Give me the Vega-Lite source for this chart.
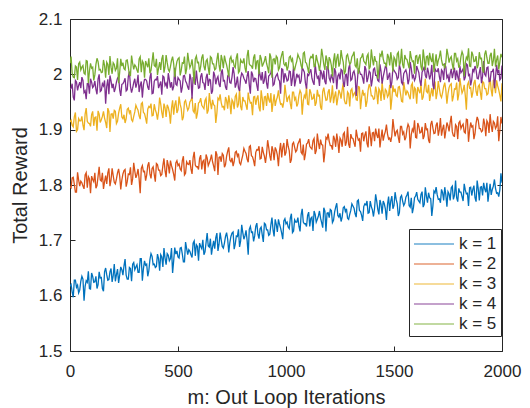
{
"$schema":"https://vega.github.io/schema/vega-lite/v6.json",
"width":432,"height":332,
"autosize":{"type":"none"},
"padding":{"left":70,"top":19,"right":28,"bottom":57},
"background":"#ffffff",
"config":{"font":"Liberation Sans","view":{"stroke":"#262626","strokeWidth":1},
 "axis":{"grid":false,"domain":false,"tickColor":"#262626","tickSize":-5,"labelColor":"#262626","labelFontSize":17,"titleColor":"#262626","titleFontSize":20,"titleFontWeight":"normal","labelFont":"Liberation Sans","titleFont":"Liberation Sans"}},
"data":{"values":[
{"m":0,"a":1.617,"b":1.797,"c":1.914,"d":1.973,"e":2.020},
{"m":10,"a":1.607,"b":1.813,"c":1.908,"d":1.983,"e":2.002},
{"m":20,"a":1.628,"b":1.801,"c":1.923,"d":1.953,"e":1.994},
{"m":30,"a":1.615,"b":1.787,"c":1.897,"d":1.986,"e":2.013},
{"m":40,"a":1.605,"b":1.809,"c":1.920,"d":1.980,"e":2.019},
{"m":50,"a":1.626,"b":1.807,"c":1.916,"d":1.975,"e":2.008},
{"m":60,"a":1.630,"b":1.798,"c":1.908,"d":1.989,"e":2.016},
{"m":70,"a":1.617,"b":1.818,"c":1.928,"d":1.970,"e":2.000},
{"m":80,"a":1.624,"b":1.795,"c":1.915,"d":1.983,"e":2.024},
{"m":90,"a":1.613,"b":1.811,"c":1.911,"d":1.965,"e":2.006},
{"m":100,"a":1.641,"b":1.816,"c":1.927,"d":1.986,"e":2.011},
{"m":110,"a":1.624,"b":1.806,"c":1.907,"d":1.979,"e":1.989},
{"m":120,"a":1.635,"b":1.794,"c":1.923,"d":1.973,"e":2.018},
{"m":130,"a":1.620,"b":1.816,"c":1.934,"d":1.992,"e":2.023},
{"m":140,"a":1.632,"b":1.809,"c":1.913,"d":1.969,"e":2.009},
{"m":150,"a":1.613,"b":1.822,"c":1.924,"d":1.983,"e":2.004},
{"m":160,"a":1.643,"b":1.806,"c":1.921,"d":1.989,"e":2.016},
{"m":170,"a":1.638,"b":1.802,"c":1.903,"d":1.978,"e":2.022},
{"m":180,"a":1.629,"b":1.830,"c":1.933,"d":1.964,"e":1.999},
{"m":190,"a":1.649,"b":1.809,"c":1.928,"d":1.988,"e":2.013},
{"m":200,"a":1.636,"b":1.817,"c":1.920,"d":1.983,"e":2.021},
{"m":210,"a":1.626,"b":1.802,"c":1.933,"d":1.975,"e":2.007},
{"m":220,"a":1.648,"b":1.822,"c":1.915,"d":1.993,"e":2.029},
{"m":230,"a":1.637,"b":1.816,"c":1.939,"d":1.972,"e":2.004},
{"m":240,"a":1.647,"b":1.809,"c":1.923,"d":1.982,"e":2.015},
{"m":250,"a":1.654,"b":1.826,"c":1.927,"d":1.987,"e":2.010},
{"m":260,"a":1.637,"b":1.797,"c":1.920,"d":1.970,"e":2.025},
{"m":270,"a":1.630,"b":1.820,"c":1.939,"d":1.996,"e":2.013},
{"m":280,"a":1.649,"b":1.832,"c":1.935,"d":1.978,"e":1.998},
{"m":290,"a":1.657,"b":1.811,"c":1.915,"d":1.975,"e":2.020},
{"m":300,"a":1.647,"b":1.825,"c":1.932,"d":1.992,"e":2.017},
{"m":310,"a":1.656,"b":1.819,"c":1.939,"d":1.984,"e":2.008},
{"m":320,"a":1.642,"b":1.811,"c":1.925,"d":1.968,"e":2.028},
{"m":330,"a":1.667,"b":1.830,"c":1.947,"d":1.987,"e":2.004},
{"m":340,"a":1.649,"b":1.824,"c":1.931,"d":1.981,"e":2.020},
{"m":350,"a":1.655,"b":1.808,"c":1.921,"d":1.991,"e":2.024},
{"m":360,"a":1.635,"b":1.835,"c":1.937,"d":1.977,"e":2.013},
{"m":370,"a":1.665,"b":1.820,"c":1.940,"d":1.994,"e":2.002},
{"m":380,"a":1.671,"b":1.830,"c":1.925,"d":1.965,"e":2.023},
{"m":390,"a":1.657,"b":1.819,"c":1.946,"d":1.987,"e":2.016},
{"m":400,"a":1.653,"b":1.839,"c":1.930,"d":1.990,"e":2.028},
{"m":410,"a":1.667,"b":1.827,"c":1.933,"d":1.975,"e":2.011},
{"m":420,"a":1.674,"b":1.817,"c":1.946,"d":1.987,"e":2.008},
{"m":430,"a":1.652,"b":1.835,"c":1.921,"d":1.997,"e":2.035},
{"m":440,"a":1.668,"b":1.826,"c":1.940,"d":1.980,"e":2.014},
{"m":450,"a":1.676,"b":1.845,"c":1.945,"d":1.974,"e":2.021},
{"m":460,"a":1.663,"b":1.821,"c":1.931,"d":1.990,"e":2.005},
{"m":470,"a":1.686,"b":1.835,"c":1.939,"d":1.986,"e":2.025},
{"m":480,"a":1.663,"b":1.819,"c":1.927,"d":1.978,"e":2.019},
{"m":490,"a":1.675,"b":1.840,"c":1.953,"d":1.982,"e":2.012},
{"m":500,"a":1.670,"b":1.835,"c":1.936,"d":1.994,"e":2.028},
{"m":510,"a":1.686,"b":1.829,"c":1.946,"d":1.988,"e":1.998},
{"m":520,"a":1.675,"b":1.844,"c":1.917,"d":1.977,"e":2.021},
{"m":530,"a":1.661,"b":1.818,"c":1.950,"d":1.998,"e":2.032},
{"m":540,"a":1.685,"b":1.842,"c":1.943,"d":1.984,"e":2.010},
{"m":550,"a":1.683,"b":1.837,"c":1.939,"d":1.972,"e":2.024},
{"m":560,"a":1.674,"b":1.829,"c":1.953,"d":1.992,"e":2.017},
{"m":570,"a":1.695,"b":1.849,"c":1.934,"d":1.995,"e":2.009},
{"m":580,"a":1.672,"b":1.836,"c":1.948,"d":1.981,"e":2.028},
{"m":590,"a":1.689,"b":1.833,"c":1.930,"d":1.988,"e":2.021},
{"m":600,"a":1.695,"b":1.848,"c":1.950,"d":1.976,"e":2.004},
{"m":610,"a":1.685,"b":1.828,"c":1.944,"d":2.002,"e":2.030},
{"m":620,"a":1.674,"b":1.845,"c":1.938,"d":1.984,"e":2.015},
{"m":630,"a":1.696,"b":1.855,"c":1.957,"d":1.994,"e":2.024},
{"m":640,"a":1.690,"b":1.835,"c":1.935,"d":1.979,"e":2.012},
{"m":650,"a":1.703,"b":1.846,"c":1.949,"d":1.990,"e":2.032},
{"m":660,"a":1.688,"b":1.842,"c":1.954,"d":1.970,"e":2.019},
{"m":670,"a":1.685,"b":1.825,"c":1.943,"d":1.998,"e":2.008},
{"m":680,"a":1.713,"b":1.855,"c":1.930,"d":1.992,"e":2.026},
{"m":690,"a":1.693,"b":1.850,"c":1.954,"d":1.982,"e":2.017},
{"m":700,"a":1.701,"b":1.842,"c":1.949,"d":2.002,"e":2.035},
{"m":710,"a":1.686,"b":1.854,"c":1.942,"d":1.988,"e":2.011},
{"m":720,"a":1.707,"b":1.837,"c":1.959,"d":1.977,"e":2.024},
{"m":730,"a":1.702,"b":1.861,"c":1.938,"d":1.997,"e":2.007},
{"m":740,"a":1.696,"b":1.845,"c":1.949,"d":1.985,"e":2.028},
{"m":750,"a":1.713,"b":1.849,"c":1.954,"d":1.995,"e":2.022},
{"m":760,"a":1.684,"b":1.842,"c":1.937,"d":2.001,"e":2.015},
{"m":770,"a":1.708,"b":1.861,"c":1.964,"d":1.983,"e":2.030},
{"m":780,"a":1.720,"b":1.857,"c":1.946,"d":1.975,"e":2.003},
{"m":790,"a":1.699,"b":1.837,"c":1.942,"d":1.993,"e":2.026},
{"m":800,"a":1.714,"b":1.854,"c":1.959,"d":1.999,"e":2.021},
{"m":810,"a":1.708,"b":1.861,"c":1.952,"d":1.989,"e":2.012},
{"m":820,"a":1.700,"b":1.847,"c":1.936,"d":1.997,"e":2.033},
{"m":830,"a":1.720,"b":1.869,"c":1.955,"d":1.981,"e":2.019},
{"m":840,"a":1.714,"b":1.853,"c":1.949,"d":2.005,"e":2.015},
{"m":850,"a":1.698,"b":1.844,"c":1.959,"d":1.986,"e":2.030},
{"m":860,"a":1.725,"b":1.859,"c":1.945,"d":1.992,"e":2.009},
{"m":870,"a":1.711,"b":1.863,"c":1.962,"d":1.970,"e":2.025},
{"m":880,"a":1.721,"b":1.847,"c":1.933,"d":1.999,"e":2.035},
{"m":890,"a":1.710,"b":1.869,"c":1.956,"d":2.004,"e":2.014},
{"m":900,"a":1.731,"b":1.852,"c":1.959,"d":1.989,"e":2.024},
{"m":910,"a":1.719,"b":1.856,"c":1.943,"d":1.984,"e":2.020},
{"m":920,"a":1.709,"b":1.868,"c":1.955,"d":1.997,"e":2.002},
{"m":930,"a":1.728,"b":1.844,"c":1.966,"d":2.003,"e":2.031},
{"m":940,"a":1.719,"b":1.862,"c":1.949,"d":1.980,"e":2.027},
{"m":950,"a":1.738,"b":1.868,"c":1.943,"d":1.994,"e":2.018},
{"m":960,"a":1.715,"b":1.854,"c":1.959,"d":2.001,"e":2.030},
{"m":970,"a":1.729,"b":1.862,"c":1.955,"d":1.988,"e":2.012},
{"m":980,"a":1.713,"b":1.850,"c":1.947,"d":2.010,"e":2.035},
{"m":990,"a":1.735,"b":1.876,"c":1.951,"d":1.985,"e":2.019},
{"m":1000,"a":1.730,"b":1.859,"c":1.964,"d":1.996,"e":2.022},
{"m":1010,"a":1.724,"b":1.870,"c":1.958,"d":1.990,"e":2.014},
{"m":1020,"a":1.740,"b":1.840,"c":1.947,"d":2.005,"e":2.033},
{"m":1030,"a":1.714,"b":1.874,"c":1.968,"d":1.993,"e":2.028},
{"m":1040,"a":1.737,"b":1.868,"c":1.954,"d":1.978,"e":2.008},
{"m":1050,"a":1.733,"b":1.863,"c":1.942,"d":2.001,"e":2.024},
{"m":1060,"a":1.725,"b":1.878,"c":1.962,"d":1.998,"e":2.031},
{"m":1070,"a":1.746,"b":1.859,"c":1.966,"d":1.988,"e":2.016},
{"m":1080,"a":1.733,"b":1.873,"c":1.952,"d":2.008,"e":2.038},
{"m":1090,"a":1.730,"b":1.856,"c":1.958,"d":1.984,"e":2.022},
{"m":1100,"a":1.745,"b":1.876,"c":1.946,"d":2.000,"e":2.012},
{"m":1110,"a":1.725,"b":1.870,"c":1.973,"d":2.004,"e":2.027},
{"m":1120,"a":1.742,"b":1.865,"c":1.955,"d":1.993,"e":2.030},
{"m":1130,"a":1.753,"b":1.884,"c":1.965,"d":1.981,"e":2.014},
{"m":1140,"a":1.733,"b":1.862,"c":1.949,"d":2.002,"e":2.035},
{"m":1150,"a":1.744,"b":1.877,"c":1.961,"d":1.996,"e":2.018},
{"m":1160,"a":1.740,"b":1.882,"c":1.941,"d":2.008,"e":2.021},
{"m":1170,"a":1.723,"b":1.872,"c":1.969,"d":1.991,"e":2.033},
{"m":1180,"a":1.753,"b":1.859,"c":1.963,"d":1.987,"e":2.008},
{"m":1190,"a":1.749,"b":1.883,"c":1.954,"d":2.014,"e":2.026},
{"m":1200,"a":1.741,"b":1.879,"c":1.973,"d":1.993,"e":2.031},
{"m":1210,"a":1.754,"b":1.871,"c":1.959,"d":2.000,"e":2.016},
{"m":1220,"a":1.736,"b":1.889,"c":1.948,"d":1.984,"e":2.024},
{"m":1230,"a":1.760,"b":1.869,"c":1.969,"d":2.004,"e":2.011},
{"m":1240,"a":1.745,"b":1.879,"c":1.957,"d":1.997,"e":2.037},
{"m":1250,"a":1.749,"b":1.885,"c":1.966,"d":1.991,"e":2.020},
{"m":1260,"a":1.742,"b":1.869,"c":1.972,"d":2.007,"e":2.030},
{"m":1270,"a":1.761,"b":1.895,"c":1.954,"d":1.977,"e":2.000},
{"m":1280,"a":1.757,"b":1.878,"c":1.947,"d":2.000,"e":2.033},
{"m":1290,"a":1.738,"b":1.874,"c":1.965,"d":2.011,"e":2.026},
{"m":1300,"a":1.754,"b":1.892,"c":1.971,"d":1.989,"e":2.021},
{"m":1310,"a":1.762,"b":1.884,"c":1.960,"d":2.003,"e":2.035},
{"m":1320,"a":1.748,"b":1.869,"c":1.968,"d":1.996,"e":2.016},
{"m":1330,"a":1.771,"b":1.888,"c":1.953,"d":1.987,"e":2.029},
{"m":1340,"a":1.754,"b":1.883,"c":1.977,"d":2.006,"e":2.011},
{"m":1350,"a":1.745,"b":1.893,"c":1.958,"d":2.000,"e":2.031},
{"m":1360,"a":1.761,"b":1.879,"c":1.963,"d":1.983,"e":2.024},
{"m":1370,"a":1.764,"b":1.897,"c":1.941,"d":2.009,"e":2.018},
{"m":1380,"a":1.749,"b":1.868,"c":1.971,"d":1.994,"e":2.037},
{"m":1390,"a":1.771,"b":1.891,"c":1.976,"d":2.003,"e":2.014},
{"m":1400,"a":1.755,"b":1.894,"c":1.961,"d":1.991,"e":2.028},
{"m":1410,"a":1.758,"b":1.879,"c":1.956,"d":2.011,"e":2.033},
{"m":1420,"a":1.771,"b":1.891,"c":1.968,"d":1.998,"e":2.023},
{"m":1430,"a":1.747,"b":1.902,"c":1.974,"d":1.987,"e":2.009},
{"m":1440,"a":1.765,"b":1.885,"c":1.952,"d":2.005,"e":2.033},
{"m":1450,"a":1.771,"b":1.880,"c":1.966,"d":1.996,"e":2.028},
{"m":1460,"a":1.757,"b":1.897,"c":1.973,"d":2.014,"e":2.020},
{"m":1470,"a":1.765,"b":1.892,"c":1.959,"d":1.990,"e":2.037},
{"m":1480,"a":1.753,"b":1.885,"c":1.981,"d":2.003,"e":2.016},
{"m":1490,"a":1.780,"b":1.889,"c":1.956,"d":1.986,"e":2.026},
{"m":1500,"a":1.763,"b":1.902,"c":1.968,"d":2.007,"e":2.031},
{"m":1510,"a":1.774,"b":1.896,"c":1.962,"d":2.001,"e":2.014},
{"m":1520,"a":1.744,"b":1.886,"c":1.977,"d":1.994,"e":2.040},
{"m":1530,"a":1.778,"b":1.906,"c":1.965,"d":2.009,"e":2.022},
{"m":1540,"a":1.771,"b":1.892,"c":1.950,"d":1.982,"e":2.018},
{"m":1550,"a":1.767,"b":1.881,"c":1.973,"d":2.005,"e":2.035},
{"m":1560,"a":1.782,"b":1.901,"c":1.970,"d":2.000,"e":2.027},
{"m":1570,"a":1.763,"b":1.905,"c":1.960,"d":1.991,"e":2.011},
{"m":1580,"a":1.777,"b":1.891,"c":1.980,"d":2.011,"e":2.030},
{"m":1590,"a":1.759,"b":1.897,"c":1.956,"d":1.998,"e":2.024},
{"m":1600,"a":1.780,"b":1.886,"c":1.973,"d":1.994,"e":2.033},
{"m":1610,"a":1.774,"b":1.912,"c":1.977,"d":2.009,"e":2.019},
{"m":1620,"a":1.768,"b":1.894,"c":1.966,"d":1.988,"e":2.036},
{"m":1630,"a":1.788,"b":1.905,"c":1.954,"d":2.004,"e":2.007},
{"m":1640,"a":1.765,"b":1.889,"c":1.975,"d":2.014,"e":2.029},
{"m":1650,"a":1.780,"b":1.900,"c":1.969,"d":1.993,"e":2.032},
{"m":1660,"a":1.786,"b":1.881,"c":1.981,"d":2.003,"e":2.016},
{"m":1670,"a":1.775,"b":1.909,"c":1.964,"d":1.999,"e":2.028},
{"m":1680,"a":1.762,"b":1.903,"c":1.960,"d":1.981,"e":2.038},
{"m":1690,"a":1.786,"b":1.894,"c":1.987,"d":2.010,"e":2.021},
{"m":1700,"a":1.782,"b":1.913,"c":1.967,"d":2.005,"e":2.015},
{"m":1710,"a":1.775,"b":1.900,"c":1.974,"d":1.996,"e":2.031},
{"m":1720,"a":1.792,"b":1.889,"c":1.958,"d":2.008,"e":2.026},
{"m":1730,"a":1.772,"b":1.909,"c":1.978,"d":1.990,"e":2.018},
{"m":1740,"a":1.782,"b":1.898,"c":1.971,"d":2.013,"e":2.022},
{"m":1750,"a":1.788,"b":1.907,"c":1.965,"d":1.998,"e":2.035},
{"m":1760,"a":1.772,"b":1.913,"c":1.981,"d":2.001,"e":2.029},
{"m":1770,"a":1.798,"b":1.896,"c":1.951,"d":1.993,"e":2.018},
{"m":1780,"a":1.781,"b":1.888,"c":1.974,"d":2.012,"e":2.038},
{"m":1790,"a":1.777,"b":1.906,"c":1.985,"d":2.007,"e":2.024},
{"m":1800,"a":1.794,"b":1.912,"c":1.964,"d":1.987,"e":2.012},
{"m":1810,"a":1.787,"b":1.902,"c":1.978,"d":2.003,"e":2.032},
{"m":1820,"a":1.771,"b":1.910,"c":1.971,"d":2.010,"e":2.035},
{"m":1830,"a":1.791,"b":1.894,"c":1.962,"d":1.995,"e":2.021},
{"m":1840,"a":1.785,"b":1.918,"c":1.981,"d":2.017,"e":2.027},
{"m":1850,"a":1.795,"b":1.899,"c":1.975,"d":2.000,"e":2.015},
{"m":1860,"a":1.781,"b":1.905,"c":1.958,"d":1.990,"e":2.041},
{"m":1870,"a":1.799,"b":1.883,"c":1.984,"d":2.005,"e":2.023},
{"m":1880,"a":1.770,"b":1.912,"c":1.969,"d":2.008,"e":2.033},
{"m":1890,"a":1.793,"b":1.917,"c":1.978,"d":1.992,"e":2.017},
{"m":1900,"a":1.796,"b":1.902,"c":1.967,"d":2.013,"e":2.028},
{"m":1910,"a":1.781,"b":1.898,"c":1.987,"d":1.996,"e":2.008},
{"m":1920,"a":1.793,"b":1.910,"c":1.974,"d":2.000,"e":2.036},
{"m":1930,"a":1.804,"b":1.916,"c":1.963,"d":2.012,"e":2.030},
{"m":1940,"a":1.787,"b":1.894,"c":1.981,"d":1.987,"e":2.020},
{"m":1950,"a":1.782,"b":1.908,"c":1.972,"d":2.005,"e":2.039},
{"m":1960,"a":1.798,"b":1.915,"c":1.990,"d":2.010,"e":2.025},
{"m":1970,"a":1.794,"b":1.902,"c":1.966,"d":1.995,"e":2.014},
{"m":1980,"a":1.786,"b":1.924,"c":1.979,"d":2.003,"e":2.034},
{"m":1990,"a":1.791,"b":1.899,"c":1.962,"d":1.990,"e":2.022},
{"m":2000,"a":1.804,"b":1.911,"c":1.984,"d":2.016,"e":2.031},
{"m":5,"a":1.620,"b":1.795,"c":1.917,"d":1.975,"e":2.032},
{"m":15,"a":1.597,"b":1.814,"c":1.905,"d":1.959,"e":1.995},
{"m":25,"a":1.628,"b":1.787,"c":1.931,"d":1.989,"e":2.015},
{"m":35,"a":1.619,"b":1.823,"c":1.900,"d":1.971,"e":1.990},
{"m":45,"a":1.610,"b":1.798,"c":1.916,"d":1.986,"e":2.022},
{"m":55,"a":1.635,"b":1.804,"c":1.924,"d":1.995,"e":2.013},
{"m":65,"a":1.591,"b":1.793,"c":1.899,"d":1.967,"e":2.002},
{"m":75,"a":1.627,"b":1.822,"c":1.939,"d":1.955,"e":2.025},
{"m":85,"a":1.644,"b":1.815,"c":1.912,"d":1.983,"e":1.984},
{"m":95,"a":1.612,"b":1.785,"c":1.906,"d":1.992,"e":2.020},
{"m":105,"a":1.635,"b":1.810,"c":1.933,"d":1.976,"e":2.013},
{"m":115,"a":1.625,"b":1.822,"c":1.922,"d":1.988,"e":1.999},
{"m":125,"a":1.613,"b":1.799,"c":1.898,"d":1.964,"e":2.029},
{"m":135,"a":1.643,"b":1.833,"c":1.928,"d":2.000,"e":2.008},
{"m":145,"a":1.633,"b":1.807,"c":1.918,"d":1.971,"e":2.003},
{"m":155,"a":1.608,"b":1.793,"c":1.933,"d":1.979,"e":2.026},
{"m":165,"a":1.650,"b":1.817,"c":1.913,"d":1.947,"e":1.994},
{"m":175,"a":1.628,"b":1.822,"c":1.939,"d":1.991,"e":2.018},
{"m":185,"a":1.643,"b":1.798,"c":1.896,"d":1.998,"e":2.033},
{"m":195,"a":1.625,"b":1.830,"c":1.929,"d":1.975,"e":2.001},
{"m":205,"a":1.657,"b":1.805,"c":1.935,"d":1.968,"e":2.018},
{"m":215,"a":1.638,"b":1.811,"c":1.911,"d":1.986,"e":2.011},
{"m":225,"a":1.623,"b":1.829,"c":1.930,"d":1.996,"e":1.984},
{"m":235,"a":1.652,"b":1.792,"c":1.946,"d":1.961,"e":2.028},
{"m":245,"a":1.637,"b":1.820,"c":1.920,"d":1.983,"e":2.021},
{"m":255,"a":1.666,"b":1.828,"c":1.912,"d":1.993,"e":2.008},
{"m":265,"a":1.630,"b":1.806,"c":1.937,"d":1.972,"e":2.026},
{"m":275,"a":1.651,"b":1.819,"c":1.930,"d":2.005,"e":1.999},
{"m":285,"a":1.626,"b":1.800,"c":1.918,"d":1.967,"e":2.034},
{"m":295,"a":1.660,"b":1.840,"c":1.924,"d":1.985,"e":2.009},
{"m":305,"a":1.652,"b":1.813,"c":1.944,"d":1.976,"e":2.014},
{"m":315,"a":1.642,"b":1.829,"c":1.935,"d":1.999,"e":2.003},
{"m":325,"a":1.667,"b":1.785,"c":1.919,"d":1.980,"e":2.032},
{"m":335,"a":1.627,"b":1.835,"c":1.949,"d":1.958,"e":2.024},
{"m":345,"a":1.663,"b":1.825,"c":1.929,"d":1.991,"e":1.994},
{"m":355,"a":1.657,"b":1.818,"c":1.911,"d":1.988,"e":2.018},
{"m":365,"a":1.645,"b":1.841,"c":1.942,"d":1.972,"e":2.029},
{"m":375,"a":1.676,"b":1.812,"c":1.947,"d":2.003,"e":2.007},
{"m":385,"a":1.656,"b":1.833,"c":1.926,"d":1.966,"e":2.040},
{"m":395,"a":1.651,"b":1.806,"c":1.936,"d":1.991,"e":2.014},
{"m":405,"a":1.675,"b":1.837,"c":1.918,"d":1.997,"e":1.999},
{"m":415,"a":1.645,"b":1.827,"c":1.958,"d":1.981,"e":2.022},
{"m":425,"a":1.670,"b":1.819,"c":1.931,"d":1.963,"e":2.028},
{"m":435,"a":1.686,"b":1.848,"c":1.947,"d":1.995,"e":2.003},
{"m":445,"a":1.656,"b":1.814,"c":1.923,"d":1.984,"e":2.035},
{"m":455,"a":1.673,"b":1.836,"c":1.940,"d":2.002,"e":2.009},
{"m":465,"a":1.667,"b":1.844,"c":1.911,"d":1.976,"e":2.014},
{"m":475,"a":1.641,"b":1.828,"c":1.953,"d":1.971,"e":2.032},
{"m":485,"a":1.687,"b":1.808,"c":1.945,"d":2.012,"e":1.995},
{"m":495,"a":1.681,"b":1.844,"c":1.930,"d":1.980,"e":2.023},
{"m":505,"a":1.668,"b":1.838,"c":1.960,"d":1.991,"e":2.030},
{"m":515,"a":1.687,"b":1.826,"c":1.938,"d":1.967,"e":2.007},
{"m":525,"a":1.661,"b":1.852,"c":1.923,"d":1.997,"e":2.020},
{"m":535,"a":1.697,"b":1.821,"c":1.953,"d":1.988,"e":2.000},
{"m":545,"a":1.674,"b":1.838,"c":1.935,"d":1.977,"e":2.039},
{"m":555,"a":1.680,"b":1.845,"c":1.950,"d":2.001,"e":2.012},
{"m":565,"a":1.669,"b":1.820,"c":1.959,"d":1.956,"e":2.027},
{"m":575,"a":1.699,"b":1.860,"c":1.931,"d":1.991,"e":1.983},
{"m":585,"a":1.692,"b":1.833,"c":1.920,"d":2.007,"e":2.033},
{"m":595,"a":1.663,"b":1.828,"c":1.948,"d":1.975,"e":2.022},
{"m":605,"a":1.689,"b":1.854,"c":1.957,"d":1.996,"e":2.014},
{"m":615,"a":1.701,"b":1.843,"c":1.941,"d":1.985,"e":2.036},
{"m":625,"a":1.679,"b":1.820,"c":1.953,"d":1.972,"e":2.007},
{"m":635,"a":1.713,"b":1.849,"c":1.929,"d":2.001,"e":2.027},
{"m":645,"a":1.688,"b":1.840,"c":1.966,"d":1.991,"e":1.999},
{"m":655,"a":1.674,"b":1.855,"c":1.937,"d":1.965,"e":2.030},
{"m":665,"a":1.699,"b":1.834,"c":1.945,"d":2.005,"e":2.019},
{"m":675,"a":1.705,"b":1.861,"c":1.912,"d":1.982,"e":2.010},
{"m":685,"a":1.681,"b":1.818,"c":1.957,"d":1.996,"e":2.039},
{"m":695,"a":1.714,"b":1.851,"c":1.964,"d":1.977,"e":2.005},
{"m":705,"a":1.689,"b":1.857,"c":1.941,"d":2.009,"e":2.026},
{"m":715,"a":1.695,"b":1.832,"c":1.935,"d":1.989,"e":2.034},
{"m":725,"a":1.714,"b":1.852,"c":1.953,"d":1.972,"e":2.017},
{"m":735,"a":1.678,"b":1.868,"c":1.962,"d":2.000,"e":1.996},
{"m":745,"a":1.707,"b":1.842,"c":1.928,"d":1.984,"e":2.032},
{"m":755,"a":1.715,"b":1.834,"c":1.950,"d":2.013,"e":2.025},
{"m":765,"a":1.693,"b":1.859,"c":1.960,"d":1.976,"e":2.012},
{"m":775,"a":1.707,"b":1.852,"c":1.940,"d":1.996,"e":2.038},
{"m":785,"a":1.688,"b":1.840,"c":1.973,"d":1.970,"e":2.006},
{"m":795,"a":1.728,"b":1.846,"c":1.935,"d":2.002,"e":2.022},
{"m":805,"a":1.702,"b":1.866,"c":1.952,"d":1.993,"e":2.029},
{"m":815,"a":1.718,"b":1.857,"c":1.944,"d":1.983,"e":2.003},
{"m":825,"a":1.674,"b":1.841,"c":1.967,"d":2.006,"e":2.044},
{"m":835,"a":1.725,"b":1.871,"c":1.948,"d":1.965,"e":2.016},
{"m":845,"a":1.715,"b":1.851,"c":1.926,"d":2.000,"e":2.010},
{"m":855,"a":1.708,"b":1.834,"c":1.960,"d":1.993,"e":2.036},
{"m":865,"a":1.731,"b":1.864,"c":1.956,"d":1.980,"e":2.024},
{"m":875,"a":1.703,"b":1.870,"c":1.940,"d":2.010,"e":2.000},
{"m":885,"a":1.724,"b":1.848,"c":1.971,"d":1.989,"e":2.029},
{"m":895,"a":1.697,"b":1.859,"c":1.935,"d":1.983,"e":2.019},
{"m":905,"a":1.729,"b":1.840,"c":1.960,"d":2.006,"e":2.033},
{"m":915,"a":1.719,"b":1.881,"c":1.966,"d":1.974,"e":2.012},
{"m":925,"a":1.711,"b":1.853,"c":1.949,"d":1.999,"e":2.038},
{"m":935,"a":1.741,"b":1.870,"c":1.932,"d":2.014,"e":1.994},
{"m":945,"a":1.707,"b":1.845,"c":1.964,"d":1.982,"e":2.028},
{"m":955,"a":1.729,"b":1.863,"c":1.953,"d":1.998,"e":2.033},
{"m":965,"a":1.738,"b":1.834,"c":1.971,"d":1.991,"e":2.008},
{"m":975,"a":1.722,"b":1.876,"c":1.946,"d":1.965,"e":2.027},
{"m":985,"a":1.702,"b":1.868,"c":1.940,"d":2.009,"e":2.042},
{"m":995,"a":1.739,"b":1.853,"c":1.981,"d":2.002,"e":2.016},
{"m":1005,"a":1.733,"b":1.883,"c":1.950,"d":1.988,"e":2.007},
{"m":1015,"a":1.721,"b":1.862,"c":1.961,"d":2.006,"e":2.031},
{"m":1025,"a":1.748,"b":1.846,"c":1.937,"d":1.979,"e":2.024},
{"m":1035,"a":1.717,"b":1.877,"c":1.968,"d":2.014,"e":2.011},
{"m":1045,"a":1.733,"b":1.860,"c":1.958,"d":1.989,"e":2.017},
{"m":1055,"a":1.741,"b":1.874,"c":1.947,"d":1.995,"e":2.036},
{"m":1065,"a":1.716,"b":1.884,"c":1.971,"d":1.983,"e":2.027},
{"m":1075,"a":1.757,"b":1.856,"c":1.927,"d":2.012,"e":2.010},
{"m":1085,"a":1.730,"b":1.845,"c":1.962,"d":2.004,"e":2.040},
{"m":1095,"a":1.725,"b":1.874,"c":1.978,"d":1.974,"e":2.020},
{"m":1105,"a":1.751,"b":1.883,"c":1.945,"d":1.998,"e":2.002},
{"m":1115,"a":1.740,"b":1.867,"c":1.967,"d":2.009,"e":2.032},
{"m":1125,"a":1.717,"b":1.880,"c":1.956,"d":1.986,"e":2.037},
{"m":1135,"a":1.747,"b":1.856,"c":1.943,"d":2.019,"e":2.015},
{"m":1145,"a":1.738,"b":1.893,"c":1.972,"d":1.993,"e":2.025},
{"m":1155,"a":1.753,"b":1.865,"c":1.962,"d":1.979,"e":2.006},
{"m":1165,"a":1.732,"b":1.873,"c":1.936,"d":2.002,"e":2.046},
{"m":1175,"a":1.759,"b":1.841,"c":1.976,"d":2.007,"e":2.018},
{"m":1185,"a":1.716,"b":1.886,"c":1.953,"d":1.982,"e":2.034},
{"m":1195,"a":1.750,"b":1.893,"c":1.968,"d":2.014,"e":2.009},
{"m":1205,"a":1.756,"b":1.871,"c":1.949,"d":1.988,"e":2.026},
{"m":1215,"a":1.732,"b":1.864,"c":1.980,"d":1.993,"e":1.996},
{"m":1225,"a":1.751,"b":1.883,"c":1.960,"d":2.011,"e":2.038},
{"m":1235,"a":1.767,"b":1.893,"c":1.944,"d":1.973,"e":2.029},
{"m":1245,"a":1.742,"b":1.858,"c":1.972,"d":2.001,"e":2.014},
{"m":1255,"a":1.734,"b":1.881,"c":1.956,"d":2.009,"e":2.044},
{"m":1265,"a":1.759,"b":1.892,"c":1.984,"d":1.986,"e":2.022},
{"m":1275,"a":1.752,"b":1.871,"c":1.947,"d":1.999,"e":2.006},
{"m":1285,"a":1.740,"b":1.905,"c":1.968,"d":1.979,"e":2.036},
{"m":1295,"a":1.747,"b":1.867,"c":1.942,"d":2.018,"e":2.018},
{"m":1305,"a":1.766,"b":1.885,"c":1.974,"d":1.991,"e":2.032},
{"m":1315,"a":1.758,"b":1.876,"c":1.965,"d":2.006,"e":2.041},
{"m":1325,"a":1.742,"b":1.900,"c":1.954,"d":1.961,"e":2.013},
{"m":1335,"a":1.773,"b":1.881,"c":1.978,"d":2.011,"e":2.001},
{"m":1345,"a":1.752,"b":1.860,"c":1.937,"d":2.000,"e":2.029},
{"m":1355,"a":1.735,"b":1.894,"c":1.972,"d":1.993,"e":2.038},
{"m":1365,"a":1.766,"b":1.890,"c":1.965,"d":2.015,"e":2.021},
{"m":1375,"a":1.771,"b":1.875,"c":1.951,"d":1.986,"e":2.033},
{"m":1385,"a":1.750,"b":1.906,"c":1.982,"d":2.006,"e":2.009},
{"m":1395,"a":1.761,"b":1.870,"c":1.961,"d":1.978,"e":2.045},
{"m":1405,"a":1.743,"b":1.895,"c":1.955,"d":2.009,"e":2.016},
{"m":1415,"a":1.783,"b":1.902,"c":1.978,"d":1.998,"e":2.024},
{"m":1425,"a":1.756,"b":1.885,"c":1.946,"d":1.989,"e":1.992},
{"m":1435,"a":1.773,"b":1.868,"c":1.970,"d":2.018,"e":2.036},
{"m":1445,"a":1.748,"b":1.900,"c":1.986,"d":1.983,"e":2.043},
{"m":1455,"a":1.766,"b":1.890,"c":1.954,"d":2.005,"e":2.020},
{"m":1465,"a":1.737,"b":1.909,"c":1.970,"d":2.013,"e":2.013},
{"m":1475,"a":1.779,"b":1.883,"c":1.963,"d":1.996,"e":2.031},
{"m":1485,"a":1.771,"b":1.878,"c":1.936,"d":1.975,"e":2.040},
{"m":1495,"a":1.757,"b":1.919,"c":1.980,"d":2.011,"e":2.005},
{"m":1505,"a":1.787,"b":1.888,"c":1.974,"d":2.004,"e":2.027},
{"m":1515,"a":1.766,"b":1.899,"c":1.960,"d":1.991,"e":2.037},
{"m":1525,"a":1.750,"b":1.876,"c":1.978,"d":2.017,"e":2.016},
{"m":1535,"a":1.781,"b":1.906,"c":1.951,"d":1.985,"e":2.046},
{"m":1545,"a":1.763,"b":1.896,"c":1.986,"d":2.001,"e":2.011},
{"m":1555,"a":1.778,"b":1.886,"c":1.962,"d":2.008,"e":2.028},
{"m":1565,"a":1.788,"b":1.910,"c":1.967,"d":1.982,"e":2.019},
{"m":1575,"a":1.760,"b":1.866,"c":1.955,"d":2.022,"e":2.042},
{"m":1585,"a":1.749,"b":1.901,"c":1.984,"d":1.994,"e":2.023},
{"m":1595,"a":1.777,"b":1.917,"c":1.976,"d":1.989,"e":2.001},
{"m":1605,"a":1.787,"b":1.885,"c":1.947,"d":2.015,"e":2.034},
{"m":1615,"a":1.771,"b":1.906,"c":1.971,"d":2.003,"e":2.030},
{"m":1625,"a":1.783,"b":1.895,"c":1.982,"d":1.979,"e":2.014},
{"m":1635,"a":1.760,"b":1.883,"c":1.959,"d":2.008,"e":2.045},
{"m":1645,"a":1.796,"b":1.912,"c":1.992,"d":1.998,"e":2.008},
{"m":1655,"a":1.768,"b":1.901,"c":1.967,"d":2.012,"e":2.033},
{"m":1665,"a":1.777,"b":1.876,"c":1.952,"d":1.991,"e":2.039},
{"m":1675,"a":1.744,"b":1.916,"c":1.975,"d":2.017,"e":2.022},
{"m":1685,"a":1.789,"b":1.893,"c":1.980,"d":1.973,"e":2.004},
{"m":1695,"a":1.796,"b":1.908,"c":1.955,"d":2.006,"e":2.036},
{"m":1705,"a":1.774,"b":1.889,"c":1.988,"d":2.011,"e":2.025},
{"m":1715,"a":1.768,"b":1.921,"c":1.962,"d":1.986,"e":2.043},
{"m":1725,"a":1.786,"b":1.901,"c":1.967,"d":2.005,"e":2.017},
{"m":1735,"a":1.796,"b":1.884,"c":1.985,"d":2.020,"e":2.011},
{"m":1745,"a":1.761,"b":1.913,"c":1.947,"d":1.994,"e":2.046},
{"m":1755,"a":1.784,"b":1.897,"c":1.976,"d":1.986,"e":2.021},
{"m":1765,"a":1.795,"b":1.925,"c":1.983,"d":2.010,"e":2.032},
{"m":1775,"a":1.774,"b":1.889,"c":1.960,"d":2.003,"e":2.008},
{"m":1785,"a":1.808,"b":1.909,"c":1.973,"d":1.990,"e":2.038},
{"m":1795,"a":1.770,"b":1.883,"c":1.953,"d":1.996,"e":2.028},
{"m":1805,"a":1.787,"b":1.915,"c":1.993,"d":2.015,"e":2.017},
{"m":1815,"a":1.779,"b":1.907,"c":1.966,"d":2.006,"e":2.041},
{"m":1825,"a":1.802,"b":1.896,"c":1.981,"d":1.989,"e":1.996},
{"m":1835,"a":1.784,"b":1.919,"c":1.936,"d":2.019,"e":2.031},
{"m":1845,"a":1.762,"b":1.878,"c":1.986,"d":1.998,"e":2.047},
{"m":1855,"a":1.796,"b":1.913,"c":1.976,"d":1.980,"e":2.014},
{"m":1865,"a":1.792,"b":1.907,"c":1.968,"d":2.010,"e":2.035},
{"m":1875,"a":1.777,"b":1.893,"c":1.990,"d":2.015,"e":2.024},
{"m":1885,"a":1.808,"b":1.923,"c":1.961,"d":1.993,"e":2.011},
{"m":1895,"a":1.772,"b":1.902,"c":1.981,"d":2.003,"e":2.040},
{"m":1905,"a":1.797,"b":1.896,"c":1.954,"d":1.984,"e":2.029},
{"m":1915,"a":1.804,"b":1.920,"c":1.985,"d":2.024,"e":2.003},
{"m":1925,"a":1.787,"b":1.888,"c":1.974,"d":1.997,"e":2.043},
{"m":1935,"a":1.770,"b":1.912,"c":1.965,"d":2.013,"e":2.020},
{"m":1945,"a":1.802,"b":1.928,"c":1.994,"d":1.988,"e":2.034},
{"m":1955,"a":1.792,"b":1.896,"c":1.960,"d":2.005,"e":2.015},
{"m":1965,"a":1.810,"b":1.912,"c":1.981,"d":1.975,"e":2.046},
{"m":1975,"a":1.785,"b":1.906,"c":1.989,"d":2.017,"e":2.026},
{"m":1985,"a":1.779,"b":1.879,"c":1.972,"d":2.008,"e":2.009},
{"m":1995,"a":1.821,"b":1.923,"c":1.951,"d":1.993,"e":2.037}
]},
"transform":[{"fold":["a","b","c","d","e"],"as":["k","v"]}],
"layer":[
 {"mark":{"type":"line","strokeWidth":1.3,"clip":true},
  "encoding":{
   "x":{"field":"m","type":"quantitative","scale":{"domain":[0,2000],"nice":false,"zero":false},
        "axis":{"orient":"bottom","values":[0,500,1000,1500,2000],"format":"d","title":"m: Out Loop Iterations","labelPadding":17,"titlePadding":8,"labelFlush":false}},
   "y":{"field":"v","type":"quantitative","scale":{"domain":[1.5,2.1],"nice":false,"zero":false},
        "axis":{"orient":"left","values":[1.5,1.6,1.7,1.8,1.9,2,2.1],"format":"~g","title":"Total Reward","labelPadding":13,"titlePadding":8}},
   "color":{"field":"k","type":"nominal",
        "scale":{"domain":["a","b","c","d","e"],"range":["#0072BD","#D95319","#EDB120","#7E2F8E","#77AC30"]},
        "legend":{"title":null,"orient":"none","legendX":339,"legendY":210,"symbolType":"M-1,0H3","symbolSize":400,"symbolStrokeWidth":1.6,"symbolOpacity":0.6,"labelOffset":24,"labelFontSize":17,"labelFont":"Liberation Sans","labelColor":"#262626","padding":4,"rowPadding":1,"strokeColor":"#262626","fillColor":"#ffffff","labelExpr":"'k = ' + (indexof(['a','b','c','d','e'], datum.label) + 1)"}}
  }},
 {"mark":{"type":"line","opacity":0},
  "encoding":{
   "x":{"field":"m","type":"quantitative","axis":{"orient":"top","values":[0,500,1000,1500,2000],"labels":false,"title":null}},
   "y":{"field":"v","type":"quantitative","axis":{"orient":"right","values":[1.5,1.6,1.7,1.8,1.9,2,2.1],"labels":false,"title":null}}
  }}
],
"resolve":{"axis":{"x":"independent","y":"independent"}}
}
